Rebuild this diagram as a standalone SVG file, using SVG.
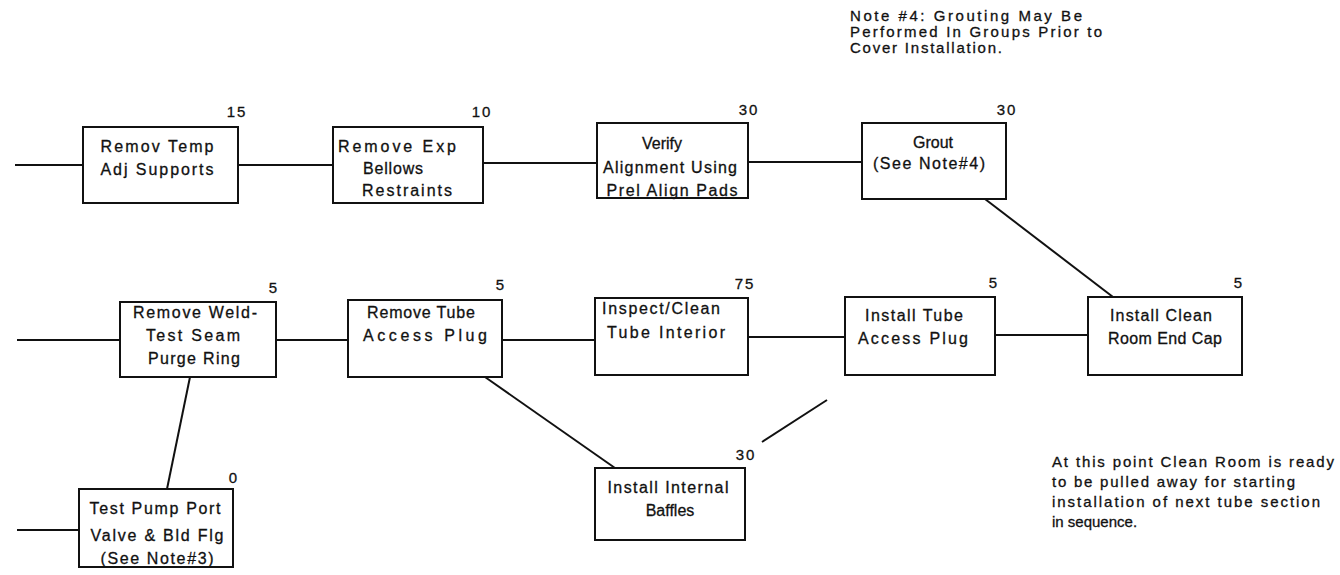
<svg xmlns="http://www.w3.org/2000/svg" width="1340" height="575" viewBox="0 0 1340 575">
<style>
.box{fill:#fff;stroke:#111;stroke-width:2}
.t{font-family:"Liberation Sans",Arial,sans-serif;font-size:16px;fill:#111;stroke:#111;stroke-width:0.3;text-anchor:middle}
.n{font-family:"Liberation Sans",Arial,sans-serif;font-size:15px;fill:#111;stroke:#111;stroke-width:0.3;text-anchor:middle;letter-spacing:2px}
.note{font-family:"Liberation Sans",Arial,sans-serif;font-size:15px;fill:#111;stroke:#111;stroke-width:0.3}
.c{stroke:#111;stroke-width:2;fill:none}
</style>
<rect width="1340" height="575" fill="#fff"/>
<g id="connectors">
<line class="c" x1="15" y1="165" x2="83" y2="165"/>
<line class="c" x1="238" y1="165" x2="333" y2="165"/>
<line class="c" x1="483" y1="163" x2="597" y2="163"/>
<line class="c" x1="748" y1="162" x2="862" y2="162"/>
<line class="c" x1="985" y1="199" x2="1113" y2="297"/>
<line class="c" x1="17" y1="340" x2="120" y2="340"/>
<line class="c" x1="276" y1="340" x2="348" y2="340"/>
<line class="c" x1="502" y1="340" x2="595" y2="340"/>
<line class="c" x1="748" y1="337" x2="845" y2="337"/>
<line class="c" x1="995" y1="335" x2="1088" y2="335"/>
<line class="c" x1="190" y1="377" x2="167" y2="489"/>
<line class="c" x1="17" y1="530" x2="79" y2="530"/>
<line class="c" x1="485" y1="377" x2="615" y2="468"/>
<line class="c" x1="762" y1="442" x2="827" y2="400"/>
</g>
<g id="n1">
<rect class="box" x="83" y="127" width="155" height="76"/>
<text class="t" x="157" y="152" textLength="113" lengthAdjust="spacing">Remov Temp</text>
<text class="t" x="157" y="175" textLength="113" lengthAdjust="spacing">Adj Supports</text>
<text class="n" x="237" y="117">15</text>
</g>
<g id="n2">
<rect class="box" x="333" y="127" width="150" height="76"/>
<text class="t" x="397" y="152" textLength="118" lengthAdjust="spacing">Remove Exp</text>
<text class="t" x="393" y="174" textLength="60" lengthAdjust="spacing">Bellows</text>
<text class="t" x="407" y="196" textLength="90" lengthAdjust="spacing">Restraints</text>
<text class="n" x="482" y="117">10</text>
</g>
<g id="n3">
<rect class="box" x="597" y="123" width="151" height="75"/>
<text class="t" x="662" y="149">Verify</text>
<text class="t" x="670" y="173" textLength="134" lengthAdjust="spacing">Alignment Using</text>
<text class="t" x="672" y="196" textLength="131" lengthAdjust="spacing">Prel Align Pads</text>
<text class="n" x="749" y="115">30</text>
</g>
<g id="n4">
<rect class="box" x="862" y="123" width="144" height="76"/>
<text class="t" x="933" y="148">Grout</text>
<text class="t" x="929" y="169" textLength="112" lengthAdjust="spacing">(See Note#4)</text>
<text class="n" x="1007" y="115">30</text>
</g>
<g id="note4">
<text class="note" x="850" y="21" textLength="232" lengthAdjust="spacing">Note #4:  Grouting May Be</text>
<text class="note" x="850" y="37" textLength="252" lengthAdjust="spacing">Performed In Groups Prior to</text>
<text class="note" x="850" y="53" textLength="152" lengthAdjust="spacing">Cover  Installation.</text>
</g>
<g id="n5">
<rect class="box" x="120" y="302" width="156" height="75"/>
<text class="t" x="195" y="318" textLength="124" lengthAdjust="spacing">Remove Weld-</text>
<text class="t" x="193" y="341" textLength="94" lengthAdjust="spacing">Test Seam</text>
<text class="t" x="194" y="364" textLength="92" lengthAdjust="spacing">Purge Ring</text>
<text class="n" x="274" y="293">5</text>
</g>
<g id="n6">
<rect class="box" x="348" y="300" width="154" height="77"/>
<text class="t" x="421" y="318" textLength="108" lengthAdjust="spacing">Remove Tube</text>
<text class="t" x="425" y="341" textLength="124" lengthAdjust="spacing">Access  Plug</text>
<text class="n" x="501" y="290">5</text>
</g>
<g id="n7">
<rect class="box" x="595" y="298" width="153" height="77"/>
<text class="t" x="661" y="314" textLength="118" lengthAdjust="spacing">Inspect/Clean</text>
<text class="t" x="666" y="338" textLength="118" lengthAdjust="spacing">Tube  Interior</text>
<text class="n" x="745" y="289">75</text>
</g>
<g id="n8">
<rect class="box" x="845" y="297" width="150" height="78"/>
<text class="t" x="914" y="321" textLength="98" lengthAdjust="spacing">Install  Tube</text>
<text class="t" x="913" y="344" textLength="110" lengthAdjust="spacing">Access  Plug</text>
<text class="n" x="994" y="288">5</text>
</g>
<g id="n9">
<rect class="box" x="1088" y="297" width="154" height="78"/>
<text class="t" x="1161" y="321" textLength="102" lengthAdjust="spacing">Install  Clean</text>
<text class="t" x="1165" y="344" textLength="114" lengthAdjust="spacing">Room End Cap</text>
<text class="n" x="1239" y="288">5</text>
</g>
<g id="n10">
<rect class="box" x="79" y="489" width="154" height="78"/>
<text class="t" x="155" y="514" textLength="131" lengthAdjust="spacing">Test Pump Port</text>
<text class="t" x="157" y="541" textLength="133" lengthAdjust="spacing">Valve &amp; Bld Flg</text>
<text class="t" x="157" y="564" textLength="113" lengthAdjust="spacing">(See  Note#3)</text>
<text class="n" x="234" y="483">0</text>
</g>
<g id="n11">
<rect class="box" x="595" y="468" width="150" height="72"/>
<text class="t" x="668" y="493" textLength="121" lengthAdjust="spacing">Install  Internal</text>
<text class="t" x="670" y="516">Baffles</text>
<text class="n" x="746" y="460">30</text>
</g>
<g id="note-end">
<text class="note" x="1052" y="467" textLength="282" lengthAdjust="spacing">At this point Clean Room is ready</text>
<text class="note" x="1052" y="487" textLength="243" lengthAdjust="spacing">to be pulled away for starting</text>
<text class="note" x="1052" y="507" textLength="268" lengthAdjust="spacing">installation of next tube section</text>
<text class="note" x="1052" y="527">in sequence.</text>
</g>
</svg>
